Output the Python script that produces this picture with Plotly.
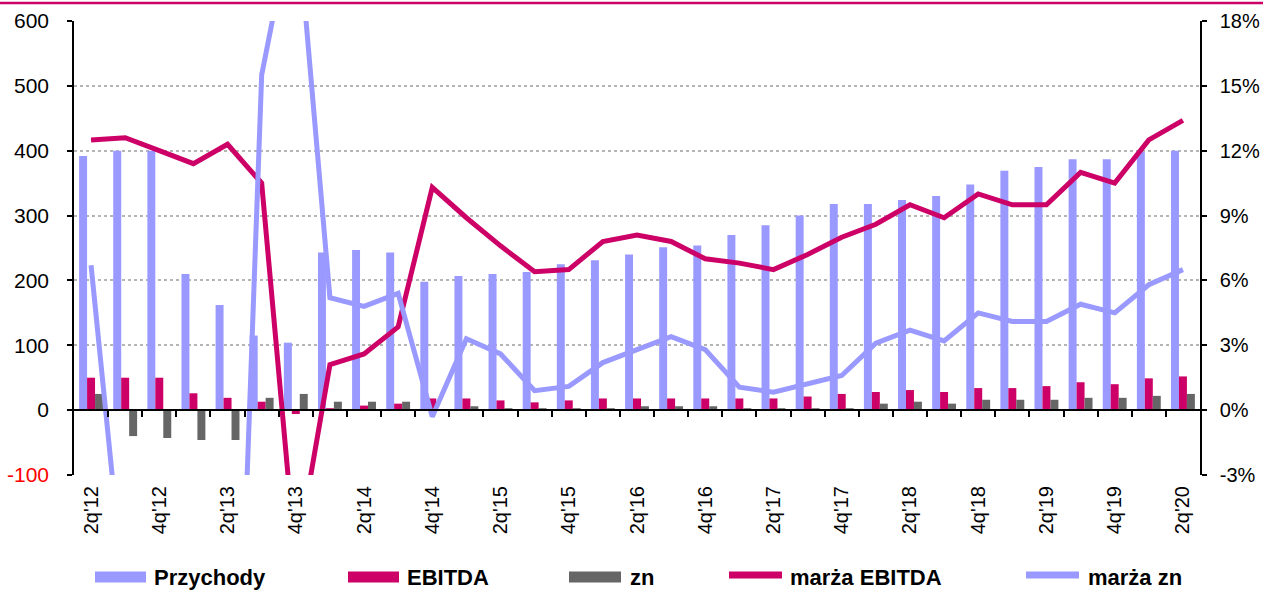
import plotly.graph_objects as go

quarters = ["2q'12", "3q'12", "4q'12", "1q'13", "2q'13", "3q'13", "4q'13",
            "1q'14", "2q'14", "3q'14", "4q'14", "1q'15", "2q'15", "3q'15", "4q'15",
            "1q'16", "2q'16", "3q'16", "4q'16", "1q'17", "2q'17", "3q'17", "4q'17",
            "1q'18", "2q'18", "3q'18", "4q'18", "1q'19", "2q'19", "3q'19", "4q'19",
            "1q'20", "2q'20"]

przychody = [392, 400, 400, 210, 162, 115, 104, 243, 247, 243, 198, 207, 210, 213, 225, 231, 240,
             251, 254, 270, 285, 300, 318, 318, 324, 330, 348, 369, 375, 387, 387, 398, 400]
ebitda = [50, 50, 50, 26, 19, 13, -6, 3, 7, 10, 18, 18, 15, 12, 15, 18, 18,
          18, 18, 18, 18, 21, 25, 28, 31, 28, 34, 34, 37, 43, 40, 49, 52]
zn = [25, -40, -43, -46, -46, 19, 25, 13, 13, 13, 1, 6, 3, 3, 3, 3, 6,
      6, 6, 3, 3, 3, 3, 10, 13, 10, 16, 16, 16, 19, 19, 22, 25]
marza_ebitda = [12.5, 12.6, 12.0, 11.4, 12.3, 10.5, -7.0, 2.1, 2.6, 3.85, 10.3, 8.9, 7.6, 6.4, 6.5, 7.8, 8.1,
                7.8, 7.0, 6.8, 6.5, 7.2, 8.0, 8.6, 9.5, 8.9, 10.0, 9.5, 9.5, 11.0, 10.5, 12.5, 13.4]
marza_zn = [6.7, -9.0, -12.0, -20.0, -28.0, 15.5, 23.5, 5.2, 4.8, 5.4, -0.3, 3.3, 2.6, 0.9, 1.1, 2.2, 2.8,
            3.4, 2.8, 1.06, 0.83, 1.2, 1.6, 3.1, 3.7, 3.2, 4.5, 4.1, 4.1, 4.9, 4.5, 5.8, 6.5]

left_ticks = [-100, 0, 100, 200, 300, 400, 500, 600]
right_ticks = [-3, 0, 3, 6, 9, 12, 15, 18]
right_labels = ["-3%", "0%", "3%", "6%", "9%", "12%", "15%", "18%"]

C_PRZ = "#9999FF"
C_EBI = "#CC0066"
C_ZN = "#666666"

FONT = "Liberation Sans, Arial, sans-serif"

# plot-area geometry (pixels)
W, H = 1263, 590
L, R, T, B = 74, 1200, 21, 475
PW, PH = R - L, B - T


def px(x):
    return (x - L) / PW


def py(y):
    return (B - y) / PH


fig = go.Figure()
fig.add_trace(go.Bar(x=quarters, y=przychody, name="Przychody", marker_color=C_PRZ,
                     marker_line_width=0, showlegend=False))
fig.add_trace(go.Bar(x=quarters, y=ebitda, name="EBITDA", marker_color=C_EBI,
                     marker_line_width=0, showlegend=False))
fig.add_trace(go.Bar(x=quarters, y=zn, name="zn", marker_color=C_ZN,
                     marker_line_width=0, showlegend=False))
fig.add_trace(go.Scatter(x=quarters, y=marza_ebitda, name="marża EBITDA", yaxis="y2",
                         mode="lines", line=dict(color=C_EBI, width=5), showlegend=False))
fig.add_trace(go.Scatter(x=quarters, y=marza_zn, name="marża zn", yaxis="y2",
                         mode="lines", line=dict(color=C_PRZ, width=5), showlegend=False))

n = len(quarters)
left_text = [f"<span style='color:red'>{v}</span>" if v < 0 else str(v) for v in left_ticks]

fig.update_layout(
    width=W, height=H,
    margin=dict(l=L, r=W - R, t=T, b=H - B, pad=0, autoexpand=False),
    paper_bgcolor="white", plot_bgcolor="white",
    font=dict(family=FONT, size=21, color="black"),
    barmode="group", bargap=0.3, bargroupgap=0,
    showlegend=False,
    xaxis=dict(type="category", categoryorder="array", categoryarray=quarters,
               range=[-0.5, n - 0.5], tickvals=quarters[::2], tickangle=-90,
               ticks="", showline=False, showgrid=False, zeroline=False,
               tickfont=dict(size=20), ticklabelstandoff=6, automargin=False),
    xaxis2=dict(overlaying="x", anchor="free", position=(0 - left_ticks[0]) / (left_ticks[-1] - left_ticks[0]),
                range=[-0.5, n - 0.5], tickvals=[i + 0.5 for i in range(n - 1)],
                ticks="outside", ticklen=6, tickwidth=1.5, tickcolor="black",
                showline=True, linecolor="black", linewidth=1.5,
                showticklabels=False, showgrid=False, zeroline=False, automargin=False),
    yaxis=dict(range=[left_ticks[0], left_ticks[-1]], tickvals=left_ticks, ticktext=left_text,
               showline=True, linecolor="black", linewidth=1.5,
               ticks="outside", ticklen=5, tickwidth=1.5, tickcolor="black",
               showgrid=True, gridcolor="#b4b4b4", griddash="dot", gridwidth=1.5,
               zeroline=False, ticklabelstandoff=14, automargin=False),
    yaxis2=dict(overlaying="y", side="right", range=[right_ticks[0], right_ticks[-1]],
                tickvals=right_ticks, ticktext=right_labels, tickfont=dict(size=20),
                showline=True, linecolor="black", linewidth=1.5,
                ticks="outside", ticklen=5, tickwidth=1.5, tickcolor="black",
                showgrid=False, zeroline=False, ticklabelstandoff=9, automargin=False),
)

# dummy trace so that the zero-line axis is rendered
fig.add_trace(go.Scatter(x=[0], y=[0], xaxis="x2", mode="markers", marker=dict(opacity=0),
                         hoverinfo="skip", showlegend=False))

shapes = []
annotations = []
# top border line
shapes.append(dict(type="line", xref="paper", yref="paper", x0=px(0), x1=px(W), y0=py(3), y1=py(3),
                   line=dict(color=C_EBI, width=2.5)))

# custom legend
legend_items = [
    ("Przychody", C_PRZ, "bar", 95, 146, 152),
    ("EBITDA", C_EBI, "bar", 348, 399, 405),
    ("zn", C_ZN, "bar", 569, 621, 628),
    ("marża EBITDA", C_EBI, "line", 729, 782, 788),
    ("marża zn", C_PRZ, "line", 1026, 1079, 1086),
]
ly = 577
for name, col, kind, x0, x1, tx in legend_items:
    if kind == "bar":
        shapes.append(dict(type="rect", xref="paper", yref="paper", x0=px(x0), x1=px(x1),
                           y0=py(ly + 5.5), y1=py(ly - 5.5), fillcolor=col, line=dict(width=0)))
    else:
        shapes.append(dict(type="line", xref="paper", yref="paper", x0=px(x0), x1=px(x1),
                           y0=py(ly - 2), y1=py(ly - 2), line=dict(color=col, width=7)))
    annotations.append(dict(text=f"<b>{name}</b>", xref="paper", yref="paper", x=px(tx), y=py(ly),
                            xanchor="left", yanchor="middle", showarrow=False,
                            font=dict(family=FONT, size=22, color="black")))

fig.update_layout(shapes=shapes, annotations=annotations)

fig.write_html("out.html", config={"displayModeBar": False},
               post_script="document.body.style.margin='0';document.body.style.overflow='hidden';")
